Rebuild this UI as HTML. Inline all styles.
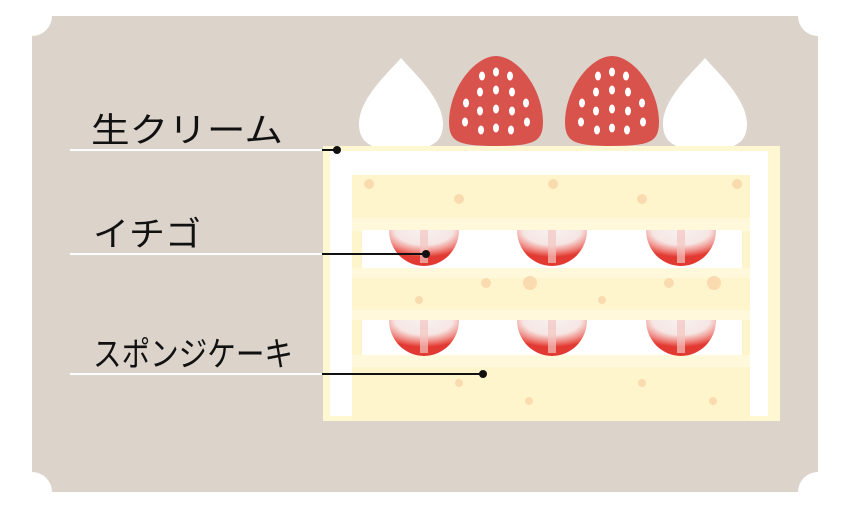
<!DOCTYPE html>
<html><head><meta charset="utf-8"><style>html,body{margin:0;padding:0;background:#fff}svg{display:block}</style></head>
<body>
<svg width="850" height="508" viewBox="0 0 850 508" xmlns="http://www.w3.org/2000/svg">
<defs>
<radialGradient id="sb" cx="0.5" cy="0" r="0.75">
<stop offset="0" stop-color="#f7f2f0"/><stop offset="0.55" stop-color="#f6e6e4"/><stop offset="0.8" stop-color="#f08a84"/><stop offset="1" stop-color="#e23a32"/>
</radialGradient>
<g id="half">
<path d="M-35,0 A35,36 0 0 0 35,0 Z" fill="url(#sb)"/>
<rect x="-4" y="0" width="8" height="33" fill="#f4c4c0" opacity="0.7"/>
</g>
<g id="drop">
<path d="M0,-46 C10,-34 42,-6 42,20 C42,40 28,46 0,46 C-28,46 -42,40 -42,20 C-42,-6 -10,-34 0,-46 Z" fill="#fff"/>
</g>
<g id="berry">
<path d="M0,-45 C20,-45 46,-15 47,20 C47,40 40,45 0,45 C-40,45 -47,40 -47,20 C-46,-15 -20,-45 0,-45 Z" fill="#d9534d"/>
<g fill="#fff">
<ellipse cx="-14" cy="-25" rx="3" ry="4.5"/><ellipse cx="0" cy="-29" rx="3" ry="4.5"/><ellipse cx="14" cy="-25" rx="3" ry="4.5"/>
<ellipse cx="-16" cy="-9" rx="3" ry="4.5"/><ellipse cx="0" cy="-11" rx="3" ry="4.5"/><ellipse cx="16" cy="-9" rx="3" ry="4.5"/>
<ellipse cx="-30" cy="2" rx="3" ry="4.5"/><ellipse cx="30" cy="2" rx="3" ry="4.5"/>
<ellipse cx="-16" cy="10" rx="3" ry="4.5"/><ellipse cx="0" cy="8" rx="3" ry="4.5"/><ellipse cx="16" cy="10" rx="3" ry="4.5"/>
<ellipse cx="-31" cy="21" rx="3" ry="4.5"/><ellipse cx="31" cy="21" rx="3" ry="4.5"/>
<ellipse cx="-15" cy="29" rx="3" ry="4.5"/><ellipse cx="0" cy="27" rx="3" ry="4.5"/><ellipse cx="15" cy="29" rx="3" ry="4.5"/>
</g>
</g>
</defs>
<rect width="850" height="508" fill="#fff"/>
<path d="M52,16 H798 A20,20 0 0 0 818,36 V472 A20,20 0 0 0 798,492 H52 A20,20 0 0 0 32,472 V36 A20,20 0 0 0 52,16 Z" fill="#dcd3cb"/>
<!-- toppings -->
<use href="#drop" x="401" y="104"/>
<use href="#berry" x="496" y="101"/>
<use href="#berry" x="612" y="101"/>
<use href="#drop" x="705" y="104"/>
<!-- cake -->
<rect x="323" y="146" width="457" height="275" fill="#fff7d2"/>
<rect x="330" y="151" width="438" height="265" fill="#fff"/>
<rect x="352" y="175" width="398" height="246" fill="#fff5cc"/>
<rect x="352" y="218" width="398" height="13" fill="#fff8da"/>
<rect x="352" y="268" width="398" height="10" fill="#fff8da"/>
<rect x="352" y="310" width="398" height="10" fill="#fff8da"/>
<rect x="352" y="355" width="398" height="12" fill="#fff8da"/>
<rect x="362" y="230" width="380" height="38" fill="#fff"/>
<rect x="362" y="320" width="380" height="35" fill="#fff"/>
<g fill="#f9d4a8" opacity="0.8">
<circle cx="369" cy="184" r="5"/><circle cx="553" cy="184" r="5"/><circle cx="737" cy="184" r="5"/><circle cx="459" cy="199" r="5"/><circle cx="642" cy="199" r="5"/>
<circle cx="486" cy="283" r="5"/><circle cx="530" cy="283" r="7"/><circle cx="669" cy="283" r="5"/><circle cx="714" cy="283" r="7"/><circle cx="419" cy="300" r="4"/><circle cx="602" cy="300" r="4"/>
<circle cx="459" cy="383" r="4"/><circle cx="642" cy="383" r="4"/><circle cx="529" cy="401" r="4"/><circle cx="713" cy="401" r="4"/>
</g>
<use href="#half" x="424" y="230"/><use href="#half" x="552" y="230"/><use href="#half" x="681" y="230"/>
<use href="#half" x="424" y="320"/><use href="#half" x="552" y="320"/><use href="#half" x="681" y="320"/>
<!-- labels -->
<g stroke="#fff" stroke-width="2">
<line x1="70" y1="150" x2="322" y2="150"/><line x1="70" y1="254" x2="322" y2="254"/><line x1="70" y1="374" x2="322" y2="374"/>
</g>
<g stroke="#111" stroke-width="2">
<line x1="322" y1="150" x2="338" y2="150"/><line x1="322" y1="254" x2="426" y2="254"/><line x1="322" y1="374" x2="483" y2="374"/>
</g>
<g fill="#111"><circle cx="337" cy="150" r="4"/><circle cx="426" cy="254" r="4"/><circle cx="483" cy="374" r="4"/></g>
<g font-family="'Liberation Sans','Noto Sans CJK JP',sans-serif" font-size="34" fill="#111">
<text x="91" y="142" textLength="192" lengthAdjust="spacingAndGlyphs">生クリーム</text>
<text x="93" y="246" textLength="108" lengthAdjust="spacingAndGlyphs">イチゴ</text>
<text x="93" y="366" textLength="200" lengthAdjust="spacingAndGlyphs">スポンジケーキ</text>
</g>
</svg>
</body></html>
